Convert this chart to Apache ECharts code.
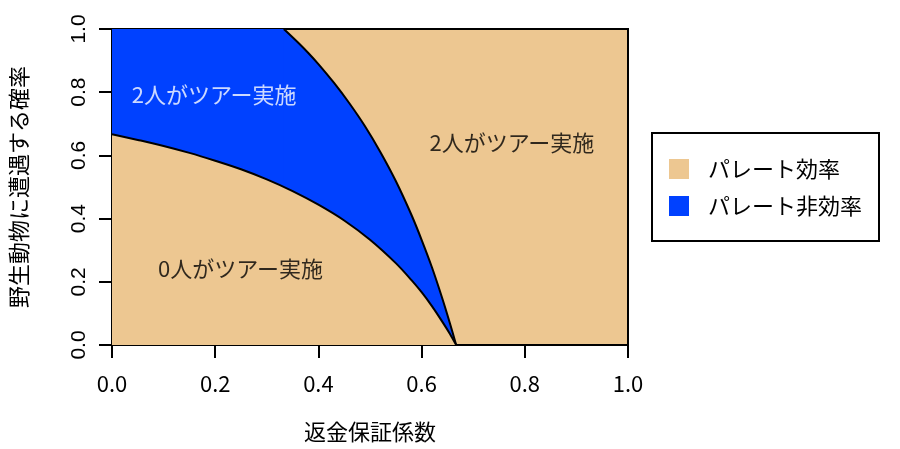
<!DOCTYPE html>
<html>
<head>
<meta charset="utf-8">
<script src="https://cdn.jsdelivr.net/npm/echarts@6/dist/echarts.min.js"></script>
<style>html,body{margin:0;padding:0;background:#fff}#c{width:900px;height:449px}</style>
</head>
<body>
<div id="c"></div>
<script>
// Lower boundary (0 tourists vs Pareto-inefficient region)
const lowerX = [0, 0.05, 0.1, 0.15, 0.2, 0.25, 0.3, 0.35, 0.4, 0.45, 0.5, 0.55, 0.58, 0.6, 0.62, 0.64, 0.655, 0.667];
const lowerY = [0.667, 0.649, 0.630, 0.608, 0.583, 0.556, 0.524, 0.487, 0.444, 0.394, 0.333, 0.259, 0.206, 0.167, 0.123, 0.074, 0.035, 0];
// Upper boundary: flat top part, then curve (Pareto-inefficient region vs 2 tourists)
const topX = [0, 0.336];
const topY = [1, 1];
const upperX = [0.333, 0.36, 0.38, 0.40, 0.43, 0.46, 0.49, 0.52, 0.55, 0.58, 0.60, 0.62, 0.64, 0.655, 0.667];
const upperY = [1, 0.958, 0.925, 0.889, 0.830, 0.765, 0.693, 0.611, 0.519, 0.413, 0.333, 0.246, 0.148, 0.068, 0];
// Region labels
const regionLabels = ['2人がツアー実施', '2人がツアー実施', '0人がツアー実施'];
const regionLabelX = [0.198, 0.775, 0.249];
const regionLabelY = [0.791, 0.639, 0.242];
const regionLabelWhite = [true, false, false];
// Axis ticks
const xTicks = ['0.0', '0.2', '0.4', '0.6', '0.8', '1.0'];
const yTicks = ['0.0', '0.2', '0.4', '0.6', '0.8', '1.0'];
const legendNames = ['パレート効率', 'パレート非効率'];

const TAN = '#EDC791';
const BLUE = '#0041FF';
const JP = '"Noto Sans CJK JP", "Noto Sans", sans-serif';

const chart = echarts.init(document.getElementById('c'), null, {renderer: 'canvas'});
const pairs = (xs, ys) => xs.map((x, i) => [x, ys[i]]);

chart.setOption({
  animation: false,
  backgroundColor: '#fff',
  grid: {left: 112, right: 272, top: 29, bottom: 104, show: true,
         backgroundColor: TAN, borderColor: '#000', borderWidth: 2},
  legend: {
    orient: 'vertical', left: 652, top: 133,
    padding: [25, 17, 24, 17], itemGap: 15,
    borderColor: '#000', borderWidth: 2,
    itemWidth: 20, itemHeight: 20,
    textStyle: {fontFamily: JP, fontSize: 22, color: '#000', padding: [0, 0, 0, 14]},
    data: [
      {name: legendNames[0], icon: 'rect', itemStyle: {color: TAN, borderWidth: 0}},
      {name: legendNames[1], icon: 'rect', itemStyle: {color: BLUE, borderWidth: 0}}
    ]
  },
  xAxis: {
    type: 'value', min: 0, max: 1, interval: 0.2,
    name: '返金保証係数', nameLocation: 'middle', nameGap: 76,
    nameTextStyle: {fontFamily: JP, fontSize: 22, color: '#000'},
    axisLine: {show: true, lineStyle: {color: '#000', width: 2}},
    axisTick: {show: true, length: 13, lineStyle: {color: '#000', width: 2}},
    axisLabel: {margin: 28, fontFamily: JP, fontSize: 22, color: '#000',
                formatter: v => xTicks[Math.round(v * 5)]},
    splitLine: {show: false}
  },
  yAxis: {
    type: 'value', min: 0, max: 1, interval: 0.2,
    name: '野生動物に遭遇する確率', nameLocation: 'middle', nameGap: 82,
    nameTextStyle: {fontFamily: JP, fontSize: 22, color: '#000'},
    axisLine: {show: true, lineStyle: {color: '#000', width: 2}},
    axisTick: {show: true, length: 13, lineStyle: {color: '#000', width: 2}},
    axisLabel: {margin: 22, rotate: 90, align: 'center', verticalAlign: 'bottom',
                fontFamily: '"Liberation Sans", Arial, sans-serif', fontSize: 21, color: '#000',
                formatter: v => yTicks[Math.round(v * 5)]},
    splitLine: {show: false}
  },
  series: [
    {
      name: legendNames[1], type: 'line', data: pairs(topX, topY),
      symbol: 'none', color: BLUE, itemStyle: {color: BLUE},
      lineStyle: {color: '#000', width: 0},
      areaStyle: {color: BLUE, opacity: 1, origin: 'start'},
      z: 1
    },
    {
      name: legendNames[1], type: 'line', data: pairs(upperX, upperY),
      symbol: 'none', color: BLUE, itemStyle: {color: BLUE},
      smooth: 0.3,
      lineStyle: {color: '#000', width: 2},
      areaStyle: {color: BLUE, opacity: 1, origin: 'start'},
      z: 2
    },
    {
      name: legendNames[0], type: 'line', data: pairs(lowerX, lowerY),
      symbol: 'none', color: TAN, itemStyle: {color: TAN},
      smooth: 0.3,
      lineStyle: {color: '#000', width: 2},
      areaStyle: {color: TAN, opacity: 1, origin: 'start'},
      z: 3
    },
    {
      type: 'scatter', symbolSize: 0, silent: true, z: 5,
      data: regionLabels.map((t, i) => ({
        value: [regionLabelX[i], regionLabelY[i]], name: t,
        label: {show: true, position: 'inside', formatter: t,
                color: regionLabelWhite[i] ? '#fff' : '#000',
                fontFamily: JP, fontSize: 22}
      }))
    }
  ]
});
</script>
</body>
</html>
